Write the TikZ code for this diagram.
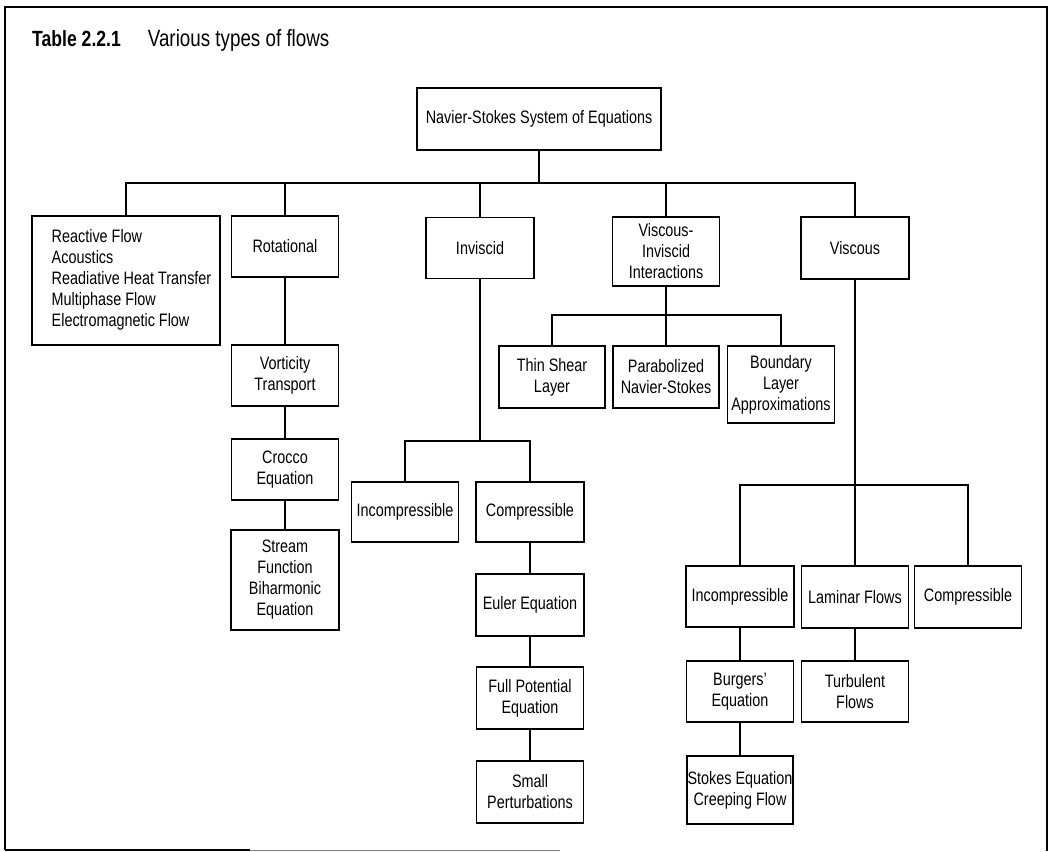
\documentclass[tikz,border=0pt]{standalone}
\usepackage{fontspec}
\setmainfont[FakeStretch=0.8]{Liberation Sans}
\begin{document}
\begin{tikzpicture}[x=1pt,y=-1pt,
  box/.style={draw, line width=1.2pt, align=center, inner sep=0pt, font=\fontsize{18}{21}\selectfont},
  link/.style={line width=1.2pt},
  frame/.style={line width=2.8pt},
  titletext/.style={anchor=base west, inner sep=0pt, font=\fontsize{22}{26}\selectfont}]
\useasboundingbox (0,0) rectangle (1051,851);
% frame
\draw[frame] (5,850) -- (5,7) -- (1047,7) -- (1047,851);
\draw[line width=1.8pt] (5,850) -- (250,850);
\draw[line width=1pt, gray] (250,850) -- (560,850);
% title
\node[titletext] (title) at (32,47) {\textbf{Table 2.2.1}\hspace{27pt}{\fontsize{23.5}{26}\selectfont Various types of flows}};
% nodes
\node[box, minimum width=244pt, minimum height=62pt] (ns) at (539,119) {Navier-Stokes System of Equations};
\node[box, minimum width=188pt, minimum height=129pt] (re) at (126,280.5) {\begin{tabular}{@{\hspace{11pt}}l@{}}Reactive Flow\\Acoustics\\Readiative Heat Transfer\\Multiphase Flow\\Electromagnetic Flow\end{tabular}};
\node[box, minimum width=107pt, minimum height=61pt] (ro) at (285,246.5) {Rotational};
\node[box, minimum width=108pt, minimum height=61pt] (iv) at (480,248) {Inviscid};
\node[box, minimum width=107pt, minimum height=69pt] (vi) at (666,251.5) {Viscous-\\Inviscid\\Interactions};
\node[box, minimum width=108pt, minimum height=62pt] (vs) at (855,248) {Viscous};
\node[box, minimum width=107pt, minimum height=61pt] (vo) at (285,375.5) {Vorticity\\Transport};
\node[box, minimum width=107pt, minimum height=61pt] (cr) at (285,469.5) {Crocco\\Equation};
\node[box, minimum width=108pt, minimum height=100pt] (sf) at (285,580) {Stream\\Function\\Biharmonic\\Equation};
\node[box, minimum width=106pt, minimum height=62pt] (ts) at (552,377) {Thin Shear\\Layer};
\node[box, minimum width=106pt, minimum height=62pt] (pn) at (666,377) {Parabolized\\Navier-Stokes};
\node[box, minimum width=107pt, minimum height=77pt] (bl) at (781,384.5) {Boundary\\Layer\\Approximations};
\node[box, minimum width=107pt, minimum height=60pt] (ii) at (405,512) {Incompressible};
\node[box, minimum width=108pt, minimum height=60pt] (ic) at (530,512) {Compressible};
\node[box, minimum width=108pt, minimum height=62pt] (eu) at (530,605) {Euler Equation};
\node[box, minimum width=107pt, minimum height=62pt] (fp) at (530,698) {Full Potential\\Equation};
\node[box, minimum width=107pt, minimum height=62pt] (sp) at (530,792) {Small\\Perturbations};
\node[box, minimum width=108pt, minimum height=61pt] (vinc) at (740,596.5) {Incompressible};
\node[box, minimum width=107pt, minimum height=62pt] (lam) at (855,597) {Laminar Flows};
\node[box, minimum width=107pt, minimum height=62pt] (vcomp) at (968,597) {Compressible};
\node[box, minimum width=107pt, minimum height=61pt] (bu) at (740,691.5) {Burgers’\\Equation};
\node[box, minimum width=107pt, minimum height=61pt] (tu) at (855,691.5) {Turbulent\\Flows};
\node[box, minimum width=106pt, minimum height=68pt] (st) at (740,790) {Stokes Equation\\Creeping Flow};
% bus coordinates
\coordinate (b1) at (539,183);
\coordinate (b2) at (480,441);
\coordinate (b3) at (666,315);
\coordinate (b4) at (855,485);
% connectors
\draw[link] (ns.south) -- (b1);
\draw[link] (re.north) |- (b1) -| (vs.north);
\foreach \n in {ro,iv,vi} \draw[link] (\n.north) -- (\n.north |- b1);
\draw[link] (ro.south) -- (vo.north);
\draw[link] (vo.south) -- (cr.north);
\draw[link] (cr.south) -- (sf.north);
\draw[link] (iv.south) -- (b2);
\draw[link] (ii.north) |- (b2) -| (ic.north);
\draw[link] (ic.south) -- (eu.north);
\draw[link] (eu.south) -- (fp.north);
\draw[link] (fp.south) -- (sp.north);
\draw[link] (vi.south) -- (b3);
\draw[link] (ts.north) |- (b3) -| (bl.north);
\draw[link] (pn.north) -- (pn.north |- b3);
\draw[link] (vs.south) -- (b4);
\draw[link] (vinc.north) |- (b4) -| (vcomp.north);
\draw[link] (lam.north) -- (lam.north |- b4);
\draw[link] (vinc.south) -- (bu.north);
\draw[link] (bu.south) -- (st.north);
\draw[link] (lam.south) -- (tu.north);
\end{tikzpicture}
\end{document}
